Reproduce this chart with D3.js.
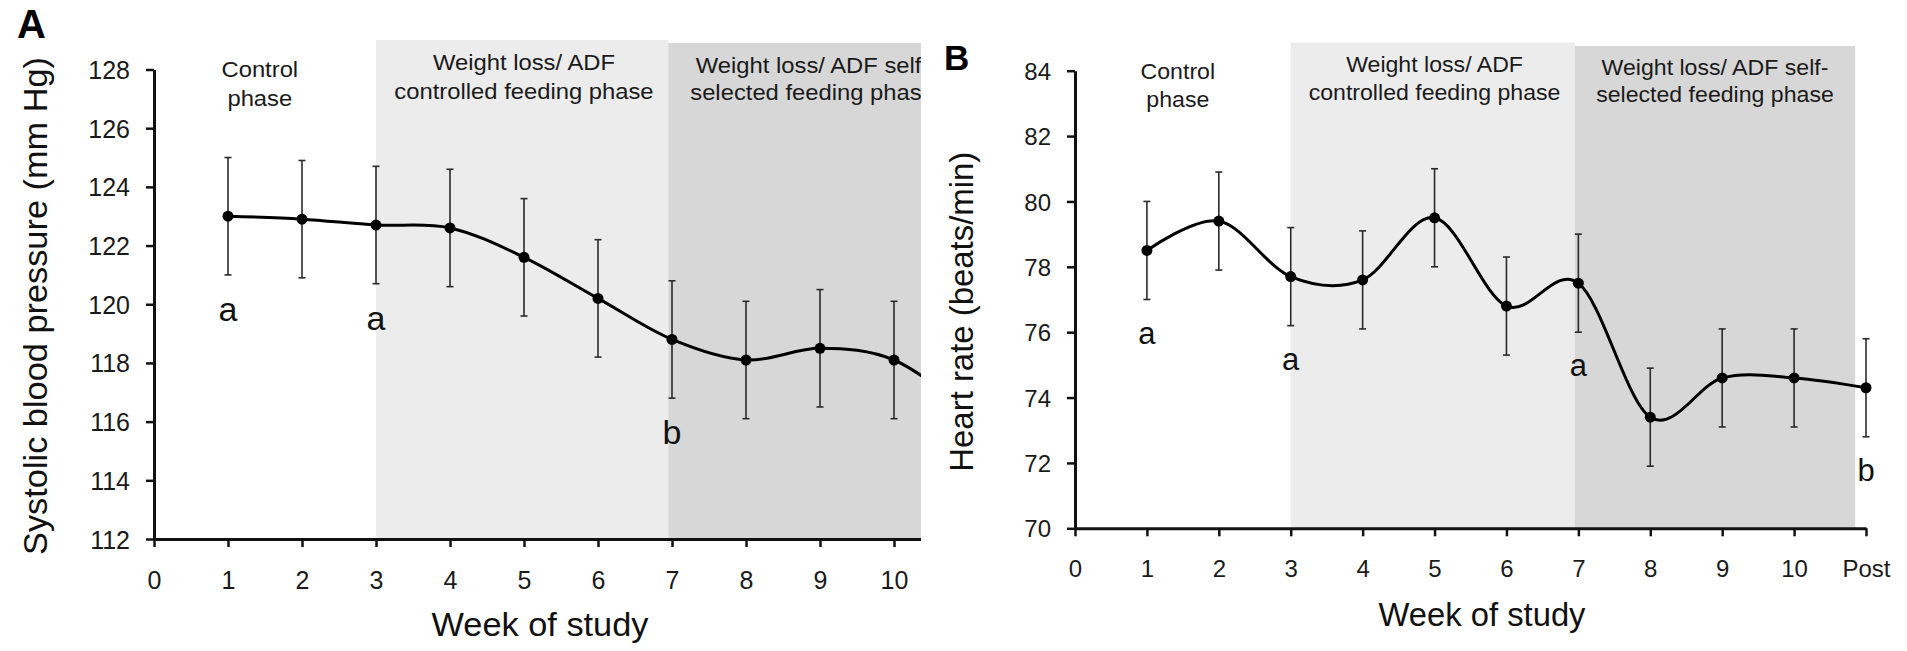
<!DOCTYPE html>
<html>
<head>
<meta charset="utf-8">
<script src="https://cdn.jsdelivr.net/npm/d3@7"></script>
<style>
  body { margin: 0; background: #fff; }
  svg { font-family: "Liberation Sans", Arial, sans-serif; }
</style>
</head>
<body>
<svg id="chart" width="1907" height="651"></svg>
<script>
// week of study, 11 = Post
var weeks = [1, 2, 3, 4, 5, 6, 7, 8, 9, 10, 11];
var weekTicks = [0, 1, 2, 3, 4, 5, 6, 7, 8, 9, 10, 11];
var weekLabels = ["0", "1", "2", "3", "4", "5", "6", "7", "8", "9", "10", "Post"];

// A: systolic blood pressure (mean, SE)
var sbpMean = [123.0, 122.9, 122.7, 122.6, 121.6, 120.2, 118.8, 118.1, 118.5, 118.1, 116.4];
var sbpErr = [2.0, 2.0, 2.0, 2.0, 2.0, 2.0, 2.0, 2.0, 2.0, 2.0, 2.0];
var sbpTicks = [112, 114, 116, 118, 120, 122, 124, 126, 128];
var sbpLetterWeeks = [1, 3, 7];
var sbpLetters = ["a", "a", "b"];

// B: heart rate (mean, SE)
var hrMean = [78.5, 79.4, 77.7, 77.6, 79.5, 76.8, 77.5, 73.4, 74.6, 74.6, 74.3];
var hrErr = [1.5, 1.5, 1.5, 1.5, 1.5, 1.5, 1.5, 1.5, 1.5, 1.5, 1.5];
var hrTicks = [70, 72, 74, 76, 78, 80, 82, 84];
var hrLetterWeeks = [1, 3, 7, 11];
var hrLetters = ["a", "a", "a", "b"];

// study phases
var phaseNames = [["Control", "phase"],
                  ["Weight loss/ ADF", "controlled feeding phase"],
                  ["Weight loss/ ADF self-", "selected feeding phase"]];
var phaseStart = [0, 3, 6.95];
var phaseEnd = [3, 6.95, 10.85];
var phaseLabelWeek = [1.43, 5, 8.9];

var svg = d3.select("#chart");
var ink = "#111";

// stretch text horizontally (the figure is a bit wider than tall)
function stretch(sel, sx) {
  sel.each(function() {
    var w = this.getComputedTextLength();
    d3.select(this).attr("textLength", w * sx).attr("lengthAdjust", "spacingAndGlyphs");
  });
}

function drawPanel(cfg) {
  var g = svg.append("g");
  if (cfg.clipRight) {
    svg.append("clipPath").attr("id", cfg.id + "clip")
      .append("rect").attr("x", 0).attr("y", 0)
      .attr("width", cfg.clipRight).attr("height", 651);
    g.attr("clip-path", "url(#" + cfg.id + "clip)");
  }

  var x = d3.scaleLinear().domain([0, 11]).range([cfg.x0, cfg.x1]);
  var y = d3.scaleLinear().domain(cfg.yDomain).range([cfg.y0, cfg.y1]);

  // phase shading
  var fills = [null, "#ececec", "#d7d7d7"];
  g.selectAll("rect.phase")
    .data(d3.range(1, 3))
    .enter().append("rect")
    .attr("class", "phase")
    .attr("x", function(i) { return x(phaseStart[i]); })
    .attr("y", function(i) { return cfg.shadeTop[i - 1]; })
    .attr("width", function(i) { return x(phaseEnd[i]) - x(phaseStart[i]); })
    .attr("height", function(i) { return cfg.y0 - cfg.shadeTop[i - 1]; })
    .attr("fill", function(i) { return fills[i]; });

  // phase labels
  phaseNames.forEach(function(lines, i) {
    lines.forEach(function(txt, j) {
      var t = g.append("text")
        .attr("x", x(phaseLabelWeek[i]))
        .attr("y", cfg.phaseBase[i][j])
        .attr("text-anchor", "middle")
        .attr("font-size", 21.3)
        .attr("fill", "#1a1a1a")
        .text(txt);
      stretch(t, cfg.phaseSx);
    });
  });

  // axes
  var yAxis = d3.axisLeft(y).tickValues(cfg.yTicks).tickSize(8).tickSizeOuter(0).tickPadding(16);
  var yg = g.append("g").attr("transform", "translate(" + cfg.x0 + ",0)").call(yAxis);

  var xAxis = d3.axisBottom(x).tickValues(weekTicks)
    .tickFormat(function(d, i) { return weekLabels[i]; })
    .tickSize(8).tickSizeOuter(0).tickPadding(24);
  var xg = g.append("g").attr("transform", "translate(0," + cfg.y0 + ")").call(xAxis);

  [yg, xg].forEach(function(a) {
    a.select(".domain").attr("stroke", ink).attr("stroke-width", 3);
    a.selectAll(".tick line").attr("stroke", ink).attr("stroke-width", 2.5);
    a.selectAll(".tick text").attr("fill", "#1a1a1a")
      .attr("font-size", cfg.tickFont).attr("font-family", "Liberation Sans, Arial, sans-serif");
  });
  yg.selectAll(".tick text").attr("dy", "0.36em");

  // error bars
  var bars = g.append("g").attr("stroke", "#2a2a2a").attr("stroke-width", 1.6);
  weeks.forEach(function(w, i) {
    var cx = x(w), top = y(cfg.mean[i] + cfg.err[i]), bot = y(cfg.mean[i] - cfg.err[i]);
    bars.append("line").attr("x1", cx).attr("x2", cx).attr("y1", top).attr("y2", bot);
    bars.append("line").attr("x1", cx - 3.5).attr("x2", cx + 3.5).attr("y1", top).attr("y2", top);
    bars.append("line").attr("x1", cx - 3.5).attr("x2", cx + 3.5).attr("y1", bot).attr("y2", bot);
  });

  // smoothed mean line
  var line = d3.line()
    .x(function(d, i) { return x(weeks[i]); })
    .y(function(d) { return y(d); })
    .curve(d3.curveCardinal.tension(0));
  g.append("path").datum(cfg.mean)
    .attr("d", line)
    .attr("fill", "none").attr("stroke", "#000").attr("stroke-width", 3);

  g.selectAll("circle.pt")
    .data(cfg.mean)
    .enter().append("circle")
    .attr("class", "pt")
    .attr("cx", function(d, i) { return x(weeks[i]); })
    .attr("cy", function(d) { return y(d); })
    .attr("r", 5.5)
    .attr("fill", "#000");

  // significance letters
  cfg.letterWeeks.forEach(function(w, k) {
    var i = weeks.indexOf(w);
    g.append("text")
      .attr("x", x(w))
      .attr("y", y(cfg.mean[i] - cfg.err[i]) + cfg.letterGap)
      .attr("text-anchor", "middle")
      .attr("font-size", cfg.letterFont)
      .attr("fill", ink)
      .text(cfg.letters[k]);
  });

  // axis titles
  var yt = svg.append("text")
    .attr("transform", "translate(" + cfg.yTitleX + "," + cfg.yTitleY + ") rotate(-90)")
    .attr("text-anchor", "middle")
    .attr("font-size", cfg.titleFont)
    .attr("fill", ink)
    .text(cfg.yTitle);
  yt.attr("textLength", cfg.yTitleLen).attr("lengthAdjust", "spacingAndGlyphs");

  svg.append("text")
    .attr("x", cfg.xTitleX).attr("y", cfg.xTitleY)
    .attr("text-anchor", "middle")
    .attr("font-size", cfg.titleFont)
    .attr("fill", ink)
    .attr("textLength", cfg.xTitleLen).attr("lengthAdjust", "spacingAndGlyphs")
    .text("Week of study");

  // panel letter
  svg.append("text")
    .attr("x", cfg.tagX).attr("y", cfg.tagY)
    .attr("font-size", cfg.tagFont).attr("font-weight", "bold")
    .attr("fill", "#000")
    .text(cfg.tag);
}

drawPanel({
  id: "A", tag: "A", tagX: 17, tagY: 38, tagFont: 40,
  x0: 154, x1: 968, clipRight: 921,
  y0: 539, y1: 69.5, yDomain: [112, 128], yTicks: sbpTicks,
  mean: sbpMean, err: sbpErr,
  letterWeeks: sbpLetterWeeks, letters: sbpLetters, letterGap: 46, letterFont: 34,
  shadeTop: [40, 43],
  phaseBase: [[77, 106], [70, 99], [72.7, 100]], phaseSx: 1.117,
  tickFont: 25,
  yTitle: "Systolic blood pressure (mm Hg)", yTitleX: 47, yTitleY: 306, yTitleLen: 498,
  xTitleX: 540, xTitleY: 636, xTitleLen: 217,
  titleFont: 34
});

drawPanel({
  id: "B", tag: "B", tagX: 944, tagY: 70, tagFont: 35,
  x0: 1075, x1: 1866,
  y0: 528.3, y1: 70.7, yDomain: [70, 84], yTicks: hrTicks,
  mean: hrMean, err: hrErr,
  letterWeeks: hrLetterWeeks, letters: hrLetters, letterGap: 44, letterFont: 31,
  shadeTop: [42.7, 46],
  phaseBase: [[79, 107], [71.7, 100], [75, 101.7]], phaseSx: 1.085,
  tickFont: 24,
  yTitle: "Heart rate (beats/min)", yTitleX: 973, yTitleY: 311.7, yTitleLen: 320,
  xTitleX: 1482, xTitleY: 626, xTitleLen: 207,
  titleFont: 32.5
});
</script>
</body>
</html>
